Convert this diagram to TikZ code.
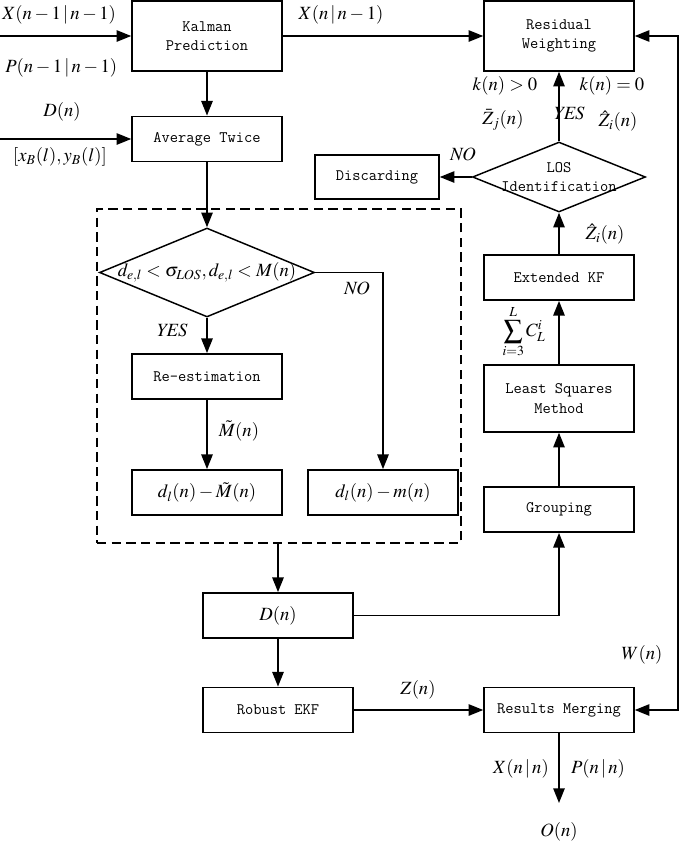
\documentclass[tikz,border=0pt]{standalone}
\usepackage{amsmath}
\usepackage{mathptmx}
\usepackage{tikz}
\usetikzlibrary{positioning,arrows.meta,shapes.geometric}

\begin{document}
\begin{tikzpicture}[x=0.75pt,y=-0.75pt, every node/.style={inner sep=0pt}]
  \tikzset{
    block/.style={draw, line width=1.1pt, minimum width=112.5pt, minimum height=34pt, align=center,
      font=\fontfamily{lmtt}\fontsize{12}{14.5}\selectfont},
    tallblock/.style={block, minimum height=52.5pt},
    mathblock/.style={block, font=\fontsize{14}{16}\selectfont},
    cond/.style={draw, diamond, line width=1.1pt},
    condtxt/.style={align=center, font=\fontfamily{lmtt}\fontsize{12}{14.5}\selectfont},
    lab/.style={font=\fontsize{14}{16}\selectfont},
    frame/.style={draw, line width=1.1pt, dash pattern=on 7pt off 4pt},
    flow/.style={line width=1.3pt, -{Triangle[length=11pt,width=8.5pt]}},
    twoway/.style={line width=1.3pt, {Triangle[length=11pt,width=8.5pt]}-{Triangle[length=11pt,width=8.5pt]}}
  }

  % keep the reference margins
  \path[use as bounding box] (0,0) rectangle (685,843);

  % left column
  \node[tallblock] (kalman) at (207,36) {Kalman\\Prediction};
  \node[block] (avg) at (207,139) {Average Twice};
  \coordinate (xin) at (0,36);
  \coordinate (din) at (0,139);

  % dashed group with the NLOS test
  \node[frame, minimum width=273pt, minimum height=250.5pt] (grp) at (279,376) {};
  \node[cond, minimum width=161.25pt, minimum height=66.75pt] (test) at (207,272.5) {};
  \node[lab] (testtxt) at (test) {$d_{e,l}<\sigma_{LOS},d_{e,l}<M(n)$};
  \node[block] (reest) at (207,376.5) {Re-estimation};
  \node[mathblock] (dlt) at (207,492.5) {$d_l(n)-\tilde{M}(n)$};
  \node[mathblock] (dlm) at (383,492.5) {$d_l(n)-m(n)$};

  % lower part
  \node[mathblock] (dn) at (278,615.5) {$D(n)$};
  \node[block] (rekf) at (278,710) {Robust EKF};
  \node[block] (merge) at (559,710) {Results Merging};
  \coordinate (out) at (559,803);
  \node[lab] (on) at (559,832) {$O(n)$};

  % right column
  \node[tallblock] (resid) at (559,36) {Residual\\Weighting};
  \node[cond, minimum width=129.75pt, minimum height=52.5pt] (los) at (559,177) {};
  \node[condtxt] (lostxt) at (los) {LOS\\Identification};
  \node[block, minimum width=93pt, minimum height=33pt] (discard) at (377,177) {Discarding};
  \node[block] (ekf) at (559,277.5) {Extended KF};
  \node[tallblock, minimum height=50.25pt] (lsm) at (559,398.5) {Least Squares\\Method};
  \node[block] (group) at (559,509.5) {Grouping};
  \coordinate (busT) at (678,36);
  \coordinate (busB) at (678,710);

  % connectors
  \draw[flow] (xin) -- (kalman.west);
  \draw[flow] (din) -- (avg.west);
  \draw[flow] (kalman.south) -- (avg.north);
  \draw[flow] (kalman.east) -- (resid.west);
  \draw[flow] (avg.south) -- (test.north);
  \draw[flow] (test.south) -- (reest.north);
  \draw[flow] (reest.south) -- (dlt.north);
  \draw[flow] (test.east) -| (dlm.north);
  \draw[flow] (grp.south -| dn.north) -- (dn.north);
  \draw[flow] (dn.south) -- (rekf.north);
  \draw[flow] (rekf.east) -- (merge.west);
  \draw[flow] (dn.east) -| (group.south);
  \draw[flow] (group.north) -- (lsm.south);
  \draw[flow] (lsm.north) -- (ekf.south);
  \draw[flow] (ekf.north) -- (los.south);
  \draw[flow] (los.north) -- (resid.south);
  \draw[flow] (los.west) -- (discard.east);
  \draw[flow] (merge.south) -- (out);
  \draw[twoway] (resid.east) -- (busT) -- (busB) -- (merge.east);

  % signal labels
  \node[lab, anchor=west] (xprev) at (2,15) {$X(n-1\,|\,n-1)$};
  \node[lab, anchor=west] (pprev) at (5,68) {$P(n-1\,|\,n-1)$};
  \node[lab] (dlab) at (62,112) {$D(n)$};
  \node[lab] (xylab) at (60,157) {$[x_B(l),y_B(l)]$};
  \node[lab] (xpred) at (341,15) {$X(n\,|\,n-1)$};
  \node[lab] (kpos) at (505,86) {$k(n)>0$};
  \node[lab] (kzero) at (612,86) {$k(n)=0$};
  \node[lab] (zbar) at (503,120) {$\bar{Z}_j(n)$};
  \node[lab] (yes1) at (569,113) {$\mathit{YES}$};
  \node[lab] (zhat1) at (618,121) {$\hat{Z}_i(n)$};
  \node[lab] (no1) at (463,154) {$\mathit{NO}$};
  \node[lab] (zhat2) at (605,234) {$\hat{Z}_i(n)$};
  \node[lab] (csum) at (524,332) {$\displaystyle\sum_{i=3}^{L} C_L^i$};
  \node[lab] (yes2) at (172,330) {$\mathit{YES}$};
  \node[lab] (no2) at (357,288) {$\mathit{NO}$};
  \node[lab] (mtil) at (239,431) {$\tilde{M}(n)$};
  \node[lab] (zn) at (418,690) {$Z(n)$};
  \node[lab] (wn) at (642,655) {$W(n)$};
  \node[lab] (xnn) at (521,769) {$X(n\,|\,n)$};
  \node[lab] (pnn) at (598,769) {$P(n\,|\,n)$};
\end{tikzpicture}
\end{document}
